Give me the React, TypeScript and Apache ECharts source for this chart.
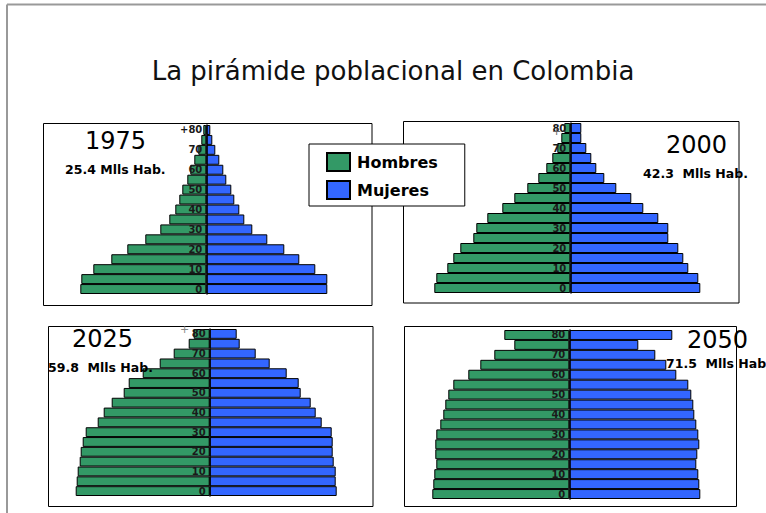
import React, { useEffect, useRef } from "react";
import * as echarts from "echarts";

const ageGroups = ["0", "5", "10", "15", "20", "25", "30", "35", "40", "45", "50", "55", "60", "65", "70", "75", "80"];

const hombres1975 = [126, 125, 113, 95, 79, 61, 46, 37, 31, 27, 24, 19, 16, 12, 8, 5, 3];
const mujeres1975 = [121, 121, 109, 93, 78, 61, 46, 38, 33, 28, 25, 20, 17, 13, 9, 6, 4];
const hombres2000 = [136, 134, 123, 117, 110, 97, 94, 83, 68, 56, 43, 32, 24, 18, 13, 9, 6];
const mujeres2000 = [130, 128, 118, 113, 108, 98, 98, 88, 73, 61, 46, 34, 26, 21, 16, 11, 11];
const hombres2025 = [134, 133, 132, 130, 129, 127, 124, 112, 106, 98, 86, 81, 67, 50, 36, 21, 16];
const mujeres2025 = [127, 126, 126, 124, 123, 123, 122, 112, 106, 101, 91, 89, 77, 60, 46, 30, 27];
const hombres2050 = [137, 136, 135, 133, 134, 134, 133, 129, 126, 124, 121, 116, 101, 89, 75, 55, 65];
const mujeres2050 = [131, 130, 129, 127, 128, 130, 129, 127, 125, 124, 122, 119, 107, 97, 86, 69, 103];

const years = ["1975", "2000", "2025", "2050"];
const poblacion = ["25.4 Mlls Hab.", "42.3  Mlls Hab.", "59.8  Mlls Hab.", "71.5  Mlls Hab."];
const title = "La pirámide poblacional en Colombia";
const seriesNames = ["Hombres", "Mujeres"];

const GREEN = "#339966";
const BLUE = "#3366ff";
const HALF = 150;

// panel layout: center x of axis, bar area top/height, box rectangle, text positions
const panels = [
  { cx: 206.3, top: 125, h: 169, box: [43.5, 123.5, 328.5, 182], year: [85, 141], pop: [65, 169], top80: "+80" },
  { cx: 570.3, top: 123, h: 170, box: [403.5, 121.5, 335.5, 181.5], year: [666, 145], pop: [643, 173], top80: "80" },
  { cx: 209.7, top: 329, h: 167, box: [48.5, 326.5, 324.5, 180], year: [72, 339], pop: [48, 367], top80: "80" },
  { cx: 569.3, top: 330, h: 169, box: [404.5, 326.5, 332, 180], year: [687, 340], pop: [666, 363], top80: "80" },
];

const hombres = [hombres1975, hombres2000, hombres2025, hombres2050];
const mujeres = [mujeres1975, mujeres2000, mujeres2025, mujeres2050];

export default function App() {
  const ref = useRef<HTMLDivElement>(null);
  useEffect(() => {
    if (!ref.current) return;
    const chart = echarts.init(ref.current, null, { renderer: "svg" });
    const grid: any[] = [];
    const xAxis: any[] = [];
    const yAxis: any[] = [];
    const series: any[] = [];
    const graphic: any[] = [];

    graphic.push({ type: "line", shape: { x1: 7, y1: 4.5, x2: 766, y2: 4.5 }, style: { stroke: "#999", lineWidth: 2 }, z: 1 });
    graphic.push({ type: "line", shape: { x1: 7, y1: 4.5, x2: 7, y2: 513 }, style: { stroke: "#999", lineWidth: 2 }, z: 1 });
    graphic.push({
      type: "text",
      x: 393,
      y: 71,
      z: 10,
      style: { text: title, font: "26px 'DejaVu Sans'", fill: "#111", textAlign: "center", textVerticalAlign: "middle" },
    });

    panels.forEach((p, i) => {
      grid.push({ left: p.cx - HALF, width: HALF * 2, top: p.top, height: p.h, containLabel: false });
      xAxis.push({ type: "value", gridIndex: i, min: -HALF, max: HALF, show: false });
      yAxis.push({
        type: "category",
        gridIndex: i,
        data: ageGroups,
        position: "left",
        offset: -HALF,
        z: 5,
        axisLine: { show: true, onZero: false, lineStyle: { color: "#000", width: 1.5 } },
        axisTick: { show: false },
        splitLine: { show: false },
        axisLabel: {
          interval: 1,
          margin: 4,
          fontSize: 10,
          fontWeight: "bold",
          fontFamily: "'DejaVu Sans'",
          color: "#1a1a1a",
          formatter: (v: string) => (v === "80" ? p.top80 : v),
        },
      });
      series.push({
        name: seriesNames[0],
        type: "bar",
        xAxisIndex: i,
        yAxisIndex: i,
        data: hombres[i].map((v) => -v),
        barCategoryGap: "0%",
        barGap: "-100%",
        itemStyle: { color: GREEN, borderColor: "#000", borderWidth: 1 },
      });
      series.push({
        name: seriesNames[1],
        type: "bar",
        xAxisIndex: i,
        yAxisIndex: i,
        data: mujeres[i],
        barCategoryGap: "0%",
        barGap: "-100%",
        itemStyle: { color: BLUE, borderColor: "#000", borderWidth: 1 },
      });
      const [bx, by, bw, bh] = p.box;
      graphic.push({ type: "rect", shape: { x: bx, y: by, width: bw, height: bh }, style: { fill: "none", stroke: "#000", lineWidth: 1 }, z: 1 });
      graphic.push({
        type: "text",
        x: p.year[0],
        y: p.year[1],
        z: 10,
        style: { text: years[i], font: "24px 'DejaVu Sans'", fill: "#000", textVerticalAlign: "middle" },
      });
      graphic.push({
        type: "text",
        x: p.pop[0],
        y: p.pop[1],
        z: 10,
        style: { text: poblacion[i], font: "bold 12.5px 'DejaVu Sans'", fill: "#000", textVerticalAlign: "middle" },
      });
    });

    graphic.push({ type: "text", x: 180, y: 324, z: 10, style: { text: "+", font: "11px 'DejaVu Sans'", fill: "#888" } });
    graphic.push({ type: "text", x: 552, y: 126, z: 10, style: { text: "+", font: "11px 'DejaVu Sans'", fill: "#666" } });

    chart.setOption({
      animation: false,
      backgroundColor: "#fff",
      grid,
      xAxis,
      yAxis,
      series,
      graphic,
      legend: {
        data: seriesNames,
        orient: "vertical",
        left: 309,
        top: 144,
        z: 20,
        backgroundColor: "#fff",
        borderColor: "#000",
        borderWidth: 1,
        padding: [8, 27, 6, 17],
        itemWidth: 23,
        itemHeight: 18,
        itemGap: 8,
        icon: "rect",
        selectedMode: false,
        textStyle: { fontSize: 16, fontWeight: "bold", fontFamily: "'DejaVu Sans'", color: "#000", padding: [0, 0, 0, 2] },
      },
    });
    return () => chart.dispose();
  }, []);
  return <div ref={ref} style={{ position: "fixed", left: 0, top: 0, width: 766, height: 513 }} />;
}
